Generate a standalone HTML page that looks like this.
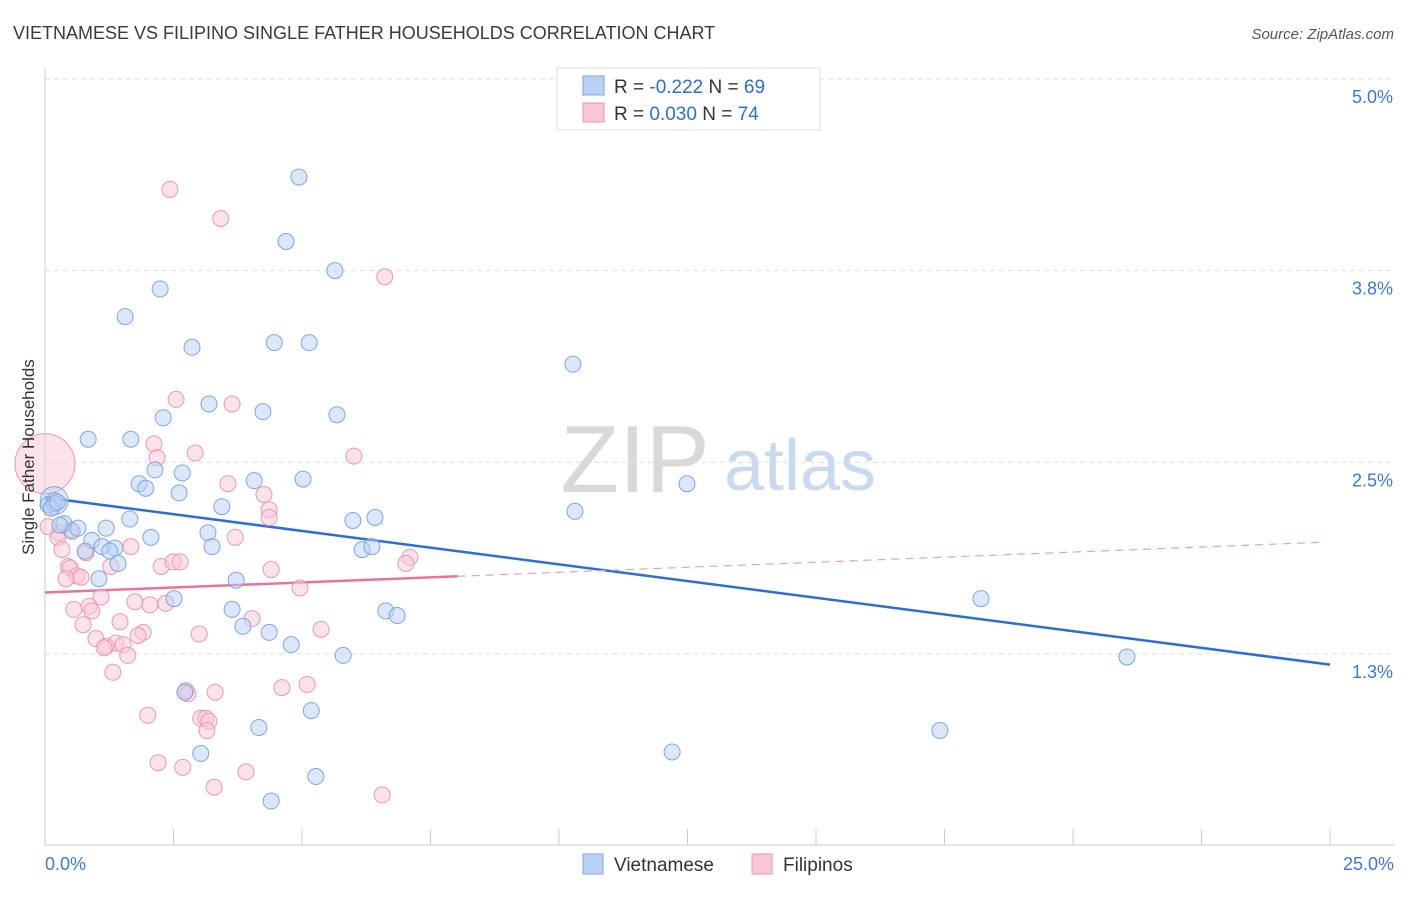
<!DOCTYPE html>
<html><head><meta charset="utf-8"><style>
body{margin:0;background:#fff;font-family:"Liberation Sans",sans-serif;}
svg text{font-family:"Liberation Sans",sans-serif;}
</style></head><body>
<svg id="chart" width="1406" height="892" viewBox="0 0 1406 892" xmlns="http://www.w3.org/2000/svg">
<text x="13" y="39" font-size="18" fill="#3a3a3a">VIETNAMESE VS FILIPINO SINGLE FATHER HOUSEHOLDS CORRELATION CHART</text>
<text x="1394" y="39" font-size="15" fill="#555" text-anchor="end" font-style="italic">Source: ZipAtlas.com</text>
<g id="watermark">
<text x="635" y="492" font-size="96" fill="#d9d9d9" font-family="Liberation Serif" text-anchor="middle">ZIP</text>
<text x="800" y="490" font-size="72" fill="#c9daf0" text-anchor="middle">atlas</text>
</g>
<g id="grid"></g>
<g id="axes"></g>
<g id="lines"></g>
<g id="points"></g>
<text transform="translate(34,457) rotate(-90)" font-size="17" fill="#333" text-anchor="middle">Single Father Households</text>
<g>
<rect x="557" y="68" width="263" height="62" fill="#fff" stroke="#ddd"/>
<rect x="583" y="76" width="21" height="19" fill="#b9d2f3" stroke="#7ea6e0"/>
<rect x="583" y="103" width="21" height="19" fill="#f9c7d6" stroke="#eb97b1"/>
<text x="614" y="93" font-size="19" fill="#333">R = <tspan fill="#2b6fd4">-0.222</tspan>   N = <tspan fill="#2b6fd4">69</tspan></text>
<text x="614" y="120" font-size="19" fill="#333">R =  <tspan fill="#2b6fd4">0.030</tspan>   N = <tspan fill="#2b6fd4">74</tspan></text>
</g>
<g>
<rect x="583" y="854" width="20" height="20" fill="#b9d2f3" stroke="#7ea6e0"/>
<text x="614" y="871" font-size="19" fill="#333">Vietnamese</text>
<rect x="752" y="854" width="20" height="20" fill="#f9c7d6" stroke="#eb97b1"/>
<text x="783" y="871" font-size="19" fill="#333">Filipinos</text>
</g>
</svg>
<script>
const xTickLabels=["0.0%","25.0%"];
const yTicks=[5.0,3.75,2.5,1.25];
const yTickLabels=["5.0%","3.8%","2.5%","1.3%"];
const viet=[[4.94,4.36],[4.69,3.94],[5.64,3.75],[2.24,3.63],[1.56,3.45],[2.86,3.25],[4.46,3.28],[5.14,3.28],[10.27,3.14],[3.19,2.88],[4.24,2.83],[5.68,2.81],[2.30,2.79],[0.84,2.65],[1.67,2.65],[2.14,2.45],[2.67,2.43],[1.83,2.36],[1.96,2.33],[2.61,2.30],[4.07,2.38],[5.02,2.39],[12.49,2.36],[3.44,2.21],[10.31,2.18],[1.65,2.13],[5.99,2.12],[6.42,2.14],[0.37,2.10],[0.53,2.05],[0.64,2.07],[1.19,2.07],[2.06,2.01],[3.17,2.04],[0.91,1.99],[1.11,1.95],[1.36,1.94],[0.78,1.92],[1.26,1.92],[3.25,1.95],[6.17,1.93],[6.36,1.95],[1.42,1.84],[1.05,1.74],[3.72,1.73],[18.21,1.61],[2.51,1.61],[6.63,1.53],[6.85,1.50],[3.64,1.54],[3.85,1.43],[4.36,1.39],[4.79,1.31],[5.80,1.24],[21.05,1.23],[2.72,1.00],[5.18,0.88],[4.16,0.77],[17.41,0.75],[12.20,0.61],[3.03,0.60],[5.27,0.45],[4.40,0.29],[0.18,2.25],[0.29,2.09],[0.06,2.22],[0.18,2.23],[0.12,2.20],[0.24,2.24]];
const fil=[[2.43,4.28],[3.42,4.09],[6.61,3.71],[2.55,2.91],[3.64,2.88],[2.12,2.62],[2.18,2.53],[2.92,2.56],[6.01,2.54],[3.56,2.36],[4.26,2.29],[4.36,2.19],[4.36,2.14],[0.27,2.04],[0.25,2.01],[0.33,1.93],[3.70,2.01],[1.67,1.95],[7.10,1.88],[7.02,1.84],[0.80,1.91],[0.45,1.82],[0.49,1.81],[1.28,1.82],[2.26,1.82],[2.49,1.85],[2.63,1.85],[4.40,1.80],[0.62,1.76],[0.41,1.74],[0.70,1.75],[4.96,1.68],[1.09,1.62],[1.75,1.59],[2.04,1.57],[2.35,1.58],[0.56,1.54],[0.86,1.56],[0.91,1.53],[4.03,1.48],[1.46,1.46],[0.74,1.44],[5.37,1.41],[1.91,1.39],[1.81,1.37],[0.99,1.35],[3.00,1.38],[1.38,1.32],[1.19,1.30],[1.15,1.29],[1.52,1.31],[1.61,1.24],[1.32,1.13],[4.61,1.03],[5.10,1.05],[2.74,1.01],[2.78,0.99],[3.31,1.00],[2.00,0.85],[3.03,0.83],[3.13,0.83],[3.19,0.81],[3.15,0.75],[2.20,0.54],[2.68,0.51],[3.91,0.48],[3.29,0.38],[6.56,0.33],[0.06,2.08],[0.5,2.06]];
const bigViet=[[0.18,2.25]];
const bigFil=[[0,2.49]];
const vietTrend=[2.27,1.18];
const filTrend=[1.65,1.98];
const filSolidEnd=8.03;
const X=v=>45+v/25*1285, Y=v=>79+(5-v)*153.3;
const NS="http://www.w3.org/2000/svg";
function mk(t,a,p){const e=document.createElementNS(NS,t);for(const k in a)e.setAttribute(k,a[k]);p.appendChild(e);return e;}
const grid=document.getElementById('grid'),axes=document.getElementById('axes'),lines=document.getElementById('lines'),pts=document.getElementById('points');
yTicks.forEach((v,i)=>{
 const l=mk('line',{x1:45,x2:1394,y1:Y(v),y2:Y(v),stroke:'#ddd','stroke-dasharray':'5,4'},grid);
 
 
 const t=mk('text',{x:1393,y:Y(v)+24,'font-size':18,fill:'#3b78d8','text-anchor':'end'},axes);
 t.textContent=yTickLabels[i];
 
 
});
const ax=mk('line',{x1:45,x2:1394,y1:845,y2:845,stroke:'#ccc'},axes);


const ay=mk('line',{x1:45,x2:45,y1:68,y2:845,stroke:'#ccc'},axes);


for(let i=0;i<=10;i++){const tk=mk('line',{x1:X(i*2.5),x2:X(i*2.5),y1:829,y2:845,stroke:'#ccc'},axes);
 
 }
const t0=mk('text',{x:45,y:870,'font-size':18,fill:'#3b78d8'},axes);t0.textContent=xTickLabels[0];


const t1=mk('text',{x:1394,y:870,'font-size':18,fill:'#3b78d8','text-anchor':'end'},axes);t1.textContent=xTickLabels[1];


const bl=mk('line',{x1:X(0),y1:Y(vietTrend[0]),x2:X(25),y2:Y(vietTrend[1]),stroke:'#2b6fd4','stroke-width':2.5},lines);


const fy=x=>filTrend[0]+(filTrend[1]-filTrend[0])*x/25;
const pl=mk('line',{x1:X(0),y1:Y(fy(0)),x2:X(filSolidEnd),y2:Y(fy(filSolidEnd)),stroke:'#e8729a','stroke-width':2.5},lines);


const pd=mk('line',{x1:X(filSolidEnd),y1:Y(fy(filSolidEnd)),x2:X(24.9),y2:Y(fy(24.9)),stroke:'#e8a0b8','stroke-width':1.2,'stroke-dasharray':'8,6'},lines);


function dots(arr,fill,stroke,name,r){arr.forEach(d=>{const c=mk('circle',{cx:X(d[0]),cy:Y(d[1]),r:r,fill:fill,stroke:stroke,'stroke-width':1,'fill-opacity':0.5},pts);
 
 });}
dots(bigFil,'#f9c7d6','#eb97b1','filipinos-point',30);
dots(fil,'#f9c7d6','#eb97b1','filipinos-point',8);
dots(bigViet,'#b9d2f3','#7ea6e0','vietnamese-point',14);
dots(viet,'#b9d2f3','#7ea6e0','vietnamese-point',8);
</script>
</body></html>
